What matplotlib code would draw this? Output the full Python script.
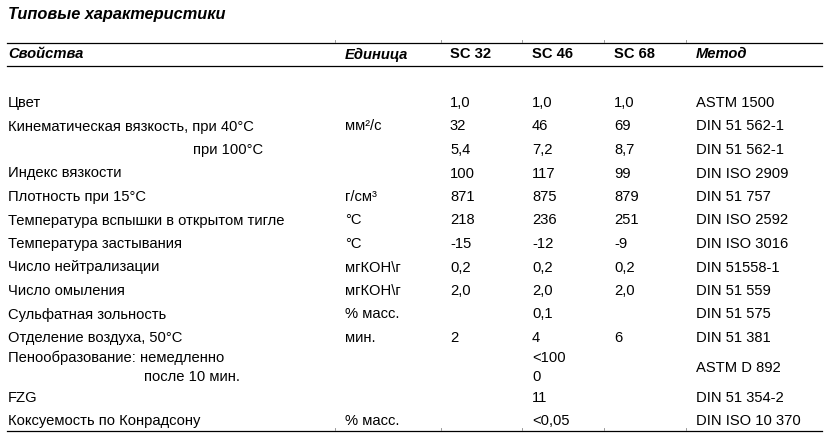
import matplotlib
matplotlib.use("Agg")
import matplotlib.pyplot as plt

plt.rcParams['font.family'] = ['Liberation Sans', 'DejaVu Sans']

# Данные таблицы
title = "Типовые характеристики"
headers = ["Свойства", "Единица", "SC 32", "SC 46", "SC 68", "Метод"]
properties = [
    "Цвет",
    "Кинематическая вязкость, при 40°C",
    "при 100°C",
    "Индекс вязкости",
    "Плотность при 15°C",
    "Температура вспышки в открытом тигле",
    "Температура застывания",
    "Число нейтрализации",
    "Число омыления",
    "Сульфатная зольность",
    "Отделение воздуха, 50°C",
    "Пенообразование: немедленно\nпосле 10 мин.",
    "FZG",
    "Коксуемость по Конрадсону",
]
units = ["", "мм²/с", "", "", "г/см³", "°C", "°C", "мгКОН\\г", "мгКОН\\г",
         "% масс.", "мин.", "", "", "% масс."]
sc32 = ["1,0", "32", "5,4", "100", "871", "218", "-15", "0,2", "2,0",
        "", "2", "", "", ""]
sc46 = ["1,0", "46", "7,2", "117", "875", "236", "-12", "0,2", "2,0",
        "0,1", "4", "<100\n0", "11", "<0,05"]
sc68 = ["1,0", "69", "8,7", "99", "879", "251", "-9", "0,2", "2,0",
        "", "6", "", "", ""]
methods = ["ASTM 1500", "DIN 51 562-1", "DIN 51 562-1", "DIN ISO 2909",
           "DIN 51 757", "DIN ISO 2592", "DIN ISO 3016", "DIN 51558-1",
           "DIN 51 559", "DIN 51 575", "DIN 51 381", "ASTM D 892",
           "DIN 51 354-2", "DIN ISO 10 370"]

# Разметка (в пикселях)
W, H = 829, 433
COL_X = [8, 345, 450, 532, 614, 696]
BOUNDS = [335, 441, 522, 604, 686]
FS = 10.6
LINE_GAP = 19

fig = plt.figure(figsize=(W / 100, H / 100), dpi=100)
ax = fig.add_axes([0, 0, 1, 1])
ax.set_xlim(0, W)
ax.set_ylim(H, 0)
ax.axis('off')

ax.text(8, 19, title, fontsize=11.8, fontweight='bold', fontstyle='italic',
        va='baseline')

# Заголовок таблицы
for i, h in enumerate(headers):
    italic = 'normal' if h.startswith("SC") else 'italic'
    ax.text(COL_X[i], 58.5, h, fontsize=FS, fontweight='bold',
            fontstyle=italic, va='baseline')

ax.plot([7, 822], [42.5, 42.5], color='black', lw=0.9)
ax.plot([7, 822], [66, 66], color='black', lw=0.9)
ax.plot([7, 822], [430.5, 430.5], color='black', lw=0.9)
for b in BOUNDS:
    ax.plot([b, b], [40, 42], color='#888888', lw=0.6)
    ax.plot([b, b], [428, 430], color='#888888', lw=0.6)


def draw_cell(x, yc, text, sub_x=None):
    lines = text.split("\n")
    n = len(lines)
    for k, line in enumerate(lines):
        y = yc + (k - (n - 1) / 2) * LINE_GAP + 5
        xx = x if k == 0 or sub_x is None else sub_x
        ax.text(xx, y, line, fontsize=FS, va='baseline')


row_h = [36 if "\n" in p else 23.5 for p in properties]
y = 102 - row_h[0] / 2
for i in range(len(properties)):
    yc = y + row_h[i] / 2
    px = 193 if properties[i].startswith("при") else COL_X[0]
    draw_cell(px, yc, properties[i], sub_x=144)
    for j, col in enumerate([units, sc32, sc46, sc68, methods]):
        if col[i]:
            draw_cell(COL_X[j + 1], yc, col[i])
    y += row_h[i]

fig.savefig("out.png", dpi=100)
